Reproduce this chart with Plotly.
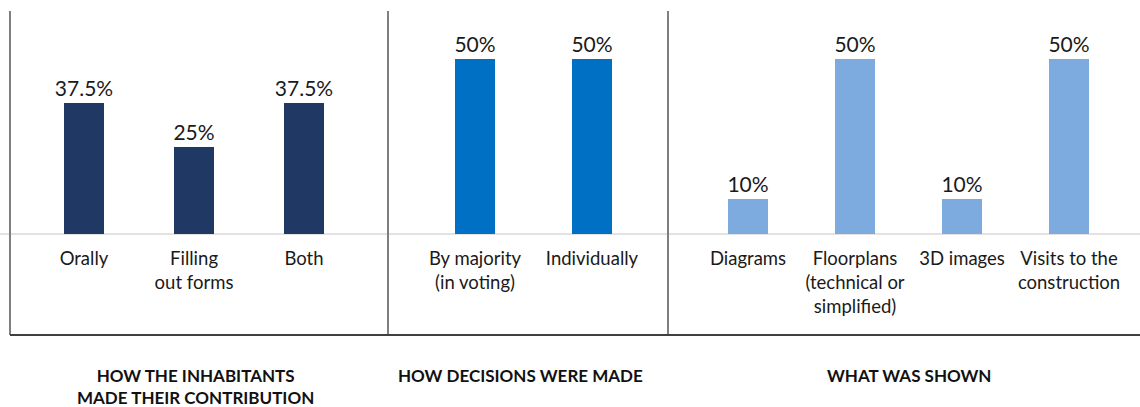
import plotly.graph_objects as go

# ---- data ----
cats_contrib = ["Orally", "Filling<br>out forms", "Both"]
vals_contrib = [37.5, 25, 37.5]
text_contrib = ["37.5%", "25%", "37.5%"]

cats_decision = ["By majority<br>(in voting)", "Individually"]
vals_decision = [50, 50]
text_decision = ["50%", "50%"]

cats_shown = ["Diagrams", "Floorplans<br>(technical or<br>simplified)", "3D images", "Visits to the<br>construction"]
vals_shown = [10, 50, 10, 50]
text_shown = ["10%", "50%", "10%", "50%"]

section_titles = ["HOW THE INHABITANTS<br>MADE THEIR CONTRIBUTION",
                  "HOW DECISIONS WERE MADE",
                  "WHAT WAS SHOWN"]

colors = ["#1F3864", "#0070C4", "#7DAADF"]

W, H = 1140, 407
FONT = "Lato, 'Open Sans', sans-serif"

# panel pixel boundaries
x_edges = [10, 388, 668, 1140]
y_top, y_bot, y_base = 11, 335, 234
px_per_pct = 3.5

y_lo = -(y_bot - y_base) / px_per_pct
y_hi = (y_base - y_top) / px_per_pct
ydom = [(H - y_bot) / H, (H - y_top) / H]
base_paper = (H - y_base) / H

panels = [
    (cats_contrib, vals_contrib, text_contrib, colors[0], 74, 110),
    (cats_decision, vals_decision, text_decision, colors[1], 87, 117),
    (cats_shown, vals_shown, text_shown, colors[2], 80, 107),
]

fig = go.Figure()
layout = dict(
    width=W, height=H,
    margin=dict(l=0, r=0, t=0, b=0),
    paper_bgcolor="white", plot_bgcolor="white",
    showlegend=False,
    font=dict(family=FONT, color="#1a1a1a"),
    bargap=0,
)

for i, (cats, vals, txt, col, first_off, spacing) in enumerate(panels):
    xa = "x" if i == 0 else f"x{i+1}"
    ya = "y" if i == 0 else f"y{i+1}"
    x0, x1 = x_edges[i], x_edges[i + 1]
    width_px = x1 - x0
    rng = [-first_off / spacing, (width_px - first_off) / spacing]
    fig.add_trace(go.Bar(
        x=cats, y=vals, text=txt, textposition="outside",
        constraintext="none",
        textfont=dict(size=21, color="#1a1a1a", family=FONT),
        marker=dict(color=col, line=dict(width=0)),
        width=40 / spacing, cliponaxis=False,
        xaxis=xa, yaxis=ya, hoverinfo="skip",
    ))
    xkey = "xaxis" if i == 0 else f"xaxis{i+1}"
    ykey = "yaxis" if i == 0 else f"yaxis{i+1}"
    layout[xkey] = dict(
        domain=[x0 / W, x1 / W], anchor="free", position=base_paper,
        type="category", range=rng, showgrid=False, zeroline=False,
        showline=False, ticks="", ticklen=0, ticklabelstandoff=11,
        tickfont=dict(size=18.5, color="#1a1a1a", family=FONT),
        fixedrange=True,
    )
    layout[ykey] = dict(
        domain=ydom, anchor=xa, range=[y_lo, y_hi],
        showgrid=False, zeroline=False, showline=False,
        showticklabels=False, ticks="", fixedrange=True,
    )

fig.update_layout(**layout)

shapes = []
# baseline
shapes.append(dict(type="line", xref="paper", yref="paper", x0=0, x1=1,
                   y0=base_paper, y1=base_paper,
                   line=dict(color="#D9D9D9", width=1.5), layer="below"))
# vertical dividers
for xe in x_edges[:3]:
    shapes.append(dict(type="line", xref="paper", yref="paper",
                       x0=xe / W, x1=xe / W, y0=(H - y_bot) / H, y1=(H - y_top) / H,
                       line=dict(color="#7F7F7F", width=2)))
# bottom line
shapes.append(dict(type="line", xref="paper", yref="paper", x0=x_edges[0] / W, x1=1,
                   y0=(H - y_bot) / H, y1=(H - y_bot) / H,
                   line=dict(color="#404040", width=2)))
fig.update_layout(shapes=shapes)

title_centers = [195, 520, 909]
annotations = []
for t, cx in zip(section_titles, title_centers):
    annotations.append(dict(
        text=f"<b>{t}</b>", x=cx / W, y=(H - 363) / H, xref="paper", yref="paper",
        xanchor="center", yanchor="top", showarrow=False, align="center",
        font=dict(size=17, color="#111111", family=FONT),
    ))
fig.update_layout(annotations=annotations)

fig.write_html(
    "out.html",
    config={"displayModeBar": False},
    post_script="document.body.style.margin='0';document.body.style.overflow='hidden';",
)
